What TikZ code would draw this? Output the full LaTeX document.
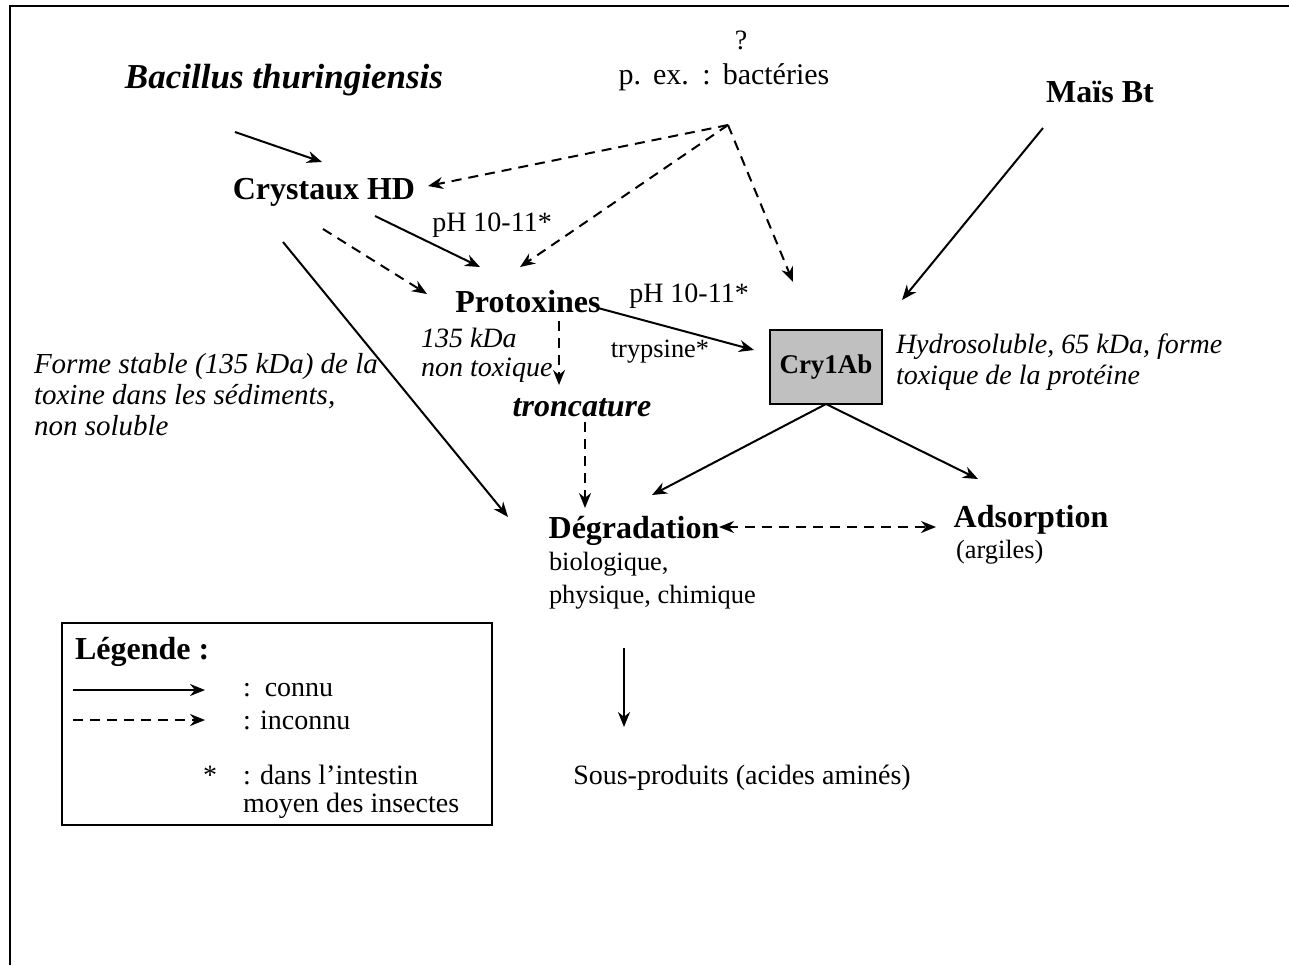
\documentclass[tikz,border=0pt]{standalone}
\usepackage{fontspec}
\setmainfont{Liberation Serif}
\usetikzlibrary{arrows.meta}
\begin{document}
\begin{tikzpicture}[x=0.5pt,y=-0.5pt,
  every node/.style={inner sep=0pt, outer sep=0pt},
  norm/.style={font=\fontsize{14}{15.5}\selectfont},
  lbl/.style={font=\fontsize{16}{18}\selectfont\bfseries},
  smalltxt/.style={font=\fontsize{13.2}{16}\selectfont},
  note/.style={font=\fontsize{14}{15.5}\selectfont\itshape, align=left},
  arr/.style={draw, line width=1pt, -{Stealth[length=7.5pt,width=6pt]}},
  darr/.style={arr, dash pattern=on 5pt off 3.5pt},
  dblarr/.style={draw, line width=1pt, {Stealth[length=7.5pt,width=6pt]}-{Stealth[length=7.5pt,width=6pt]}, dash pattern=on 5pt off 3.5pt},
  plain/.style={draw, line width=1pt}
]
\useasboundingbox (0,0) rectangle (1289,965);
% frame (top and left)
\draw[line width=1.4pt] (10,965) -- (10,6) -- (1289,6);

% nodes
\node[norm] (q) at (741,40) {?};
\node[norm, font=\fontsize{15}{16}\selectfont] (bact) at (724,77) {p.\hspace{0.4em}ex.\hspace{0.45em}:\hspace{0.4em}bactéries};
\coordinate (hub) at (728,125);
\node[lbl, font=\fontsize{17.5}{20}\selectfont\bfseries\itshape] (bac) at (284,80) {Bacillus thuringiensis};
\node[lbl] (mais) at (1100,92) {Maïs Bt};
\node[lbl] (crys) at (324,192) {Crystaux HD};
\node[lbl] (prot) at (528,302) {Protoxines};
\node[draw, line width=1pt, fill={rgb,255:red,192;green,192;blue,192}, minimum width=56pt, minimum height=37pt,
      font=\fontsize{13.5}{15}\selectfont\bfseries] (cry) at (826,367) {Cry1Ab};
\node[lbl, font=\fontsize{16}{18}\selectfont\bfseries\itshape] (tronc) at (582,408) {troncature};
\node[lbl] (deg) at (634,531) {Dégradation};
\node[lbl] (ads) at (1031,520) {Adsorption};
\node[norm] (sous) at (742,778) {Sous-produits (acides aminés)};

% labels
\node[norm] (ph1) at (492,225) {pH 10-11*};
\node[norm] (ph2) at (689,296) {pH 10-11*};
\node[smalltxt] (tryp) at (660,352) {trypsine*};
\node[note, anchor=west] (kda) at (421,338) {135 kDa};
\node[note, anchor=west] (ntox) at (421,370) {non toxique};
\node[note, anchor=west, font=\fontsize{14.5}{15.5}\selectfont\itshape] (forme) at (34,395) {Forme stable (135 kDa) de la\\toxine dans les sédiments,\\non soluble};
\node[note, anchor=west] (hydro) at (896,362) {Hydrosoluble, 65 kDa, forme\\toxique de la protéine};
\node[smalltxt, anchor=west] (bio) at (549,564) {biologique,};
\node[smalltxt, anchor=west] (phys) at (549,597) {physique, chimique};
\node[smalltxt, anchor=west] (arg) at (956,552) {(argiles)};

% connectors
\draw[arr] ([shift={(-49,52)}]bac.center) -- ([shift={(-2,-30)}]crys.center);
\draw[darr] (hub) -- ([shift={(104,-6)}]crys.center);
\draw[darr] (hub) -- ([shift={(-8,-35)}]prot.center);
\draw[darr] (hub) -- ([shift={(-33,-85)}]cry.center);
\draw[arr] ([shift={(-57,36)}]mais.center) -- ([shift={(76,-67)}]cry.center);
\draw[arr] ([shift={(51,24)}]crys.center) -- ([shift={(-48,-35)}]prot.center);
\draw[darr] ([shift={(-1,37)}]crys.center) -- ([shift={(-101,-8)}]prot.center);
\draw[arr] ([shift={(-41,50)}]crys.center) -- ([shift={(-126,-14)}]deg.center);
\draw[arr] ([shift={(70,6)}]prot.center) -- ([shift={(-72,-17)}]cry.center);
\draw[darr] ([shift={(31,19)}]prot.center) -- ([shift={(-23,-23)}]tronc.center);
\draw[darr] ([shift={(3,14)}]tronc.center) -- ([shift={(-49,-23)}]deg.center);
\draw[arr] (cry.south) -- ([shift={(18,-36)}]deg.center);
\draw[arr] (cry.south) -- ([shift={(-53,-41)}]ads.center);
\draw[dblarr] ([shift={(85,-4)}]deg.center) -- ([shift={(-95,7)}]ads.center);
\draw[arr] ([shift={(-10,117)}]deg.center) -- ([shift={(-118,-51)}]sous.center);

% legend
\node[draw, line width=1pt, minimum width=215pt, minimum height=101pt] (leg) at (277,724) {};
\node[lbl, anchor=west] (legt) at (75,652) {Légende :};
\coordinate (l1a) at (73,690); \coordinate (l1b) at (205,690);
\coordinate (l2a) at (73,720); \coordinate (l2b) at (205,720);
\draw[arr] (l1a) -- (l1b);
\draw[darr] (l2a) -- (l2b);
\node[norm, anchor=west] (lc) at (243,690) {:\ \ connu};
\node[norm, anchor=west] (li) at (243,720) {: inconnu};
\node[norm] (ls) at (210,775) {*};
\node[norm, anchor=west] (ld) at (243,775) {: dans l’intestin};
\node[norm, anchor=west] (lm) at (243,806) {moyen des insectes};
\end{tikzpicture}
\end{document}
